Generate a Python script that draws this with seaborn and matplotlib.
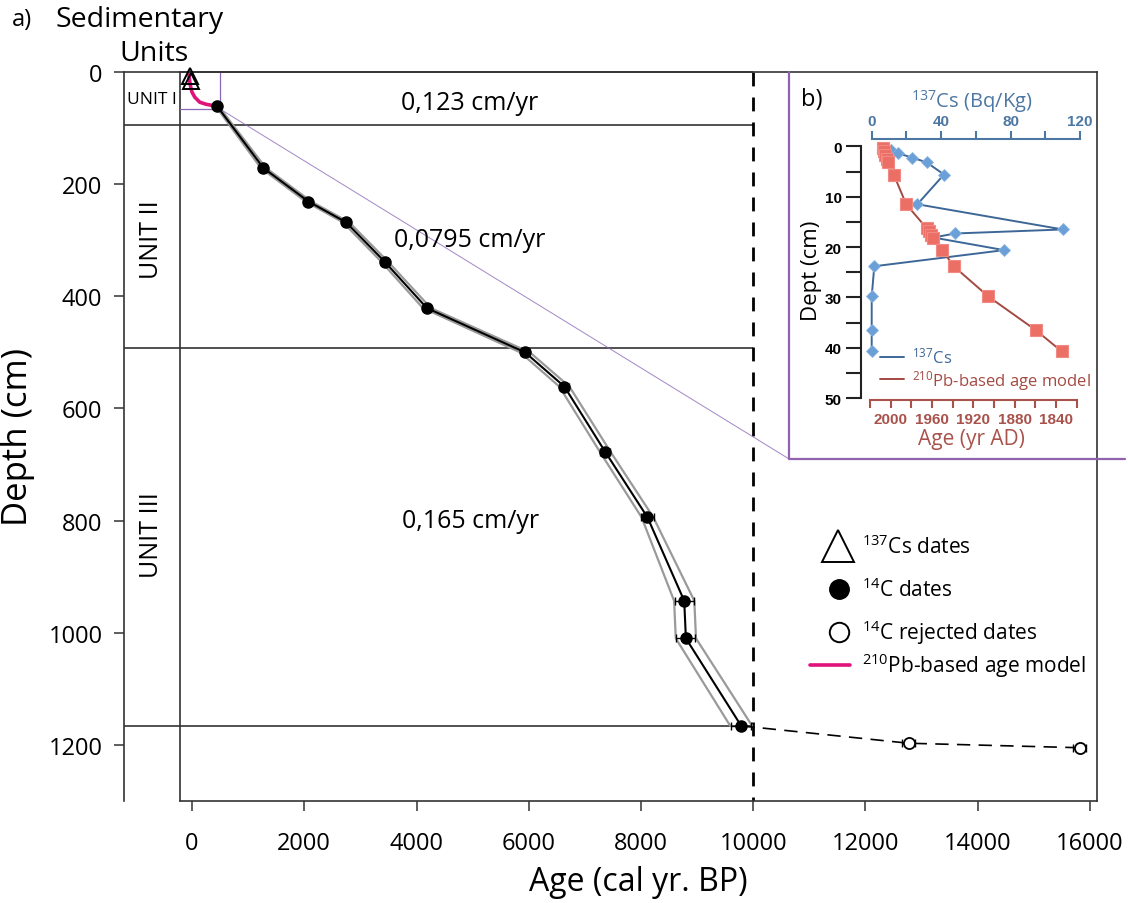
import matplotlib
matplotlib.use("Agg")
import matplotlib.pyplot as plt
from matplotlib.font_manager import FontProperties
from matplotlib.lines import Line2D
import seaborn as sns
import pandas as pd

# ---- main age-depth model -------------------------------------------------
c14_age = [440, 1270, 2075, 2745, 3430, 4185, 5935, 6635, 7360, 8115, 8770, 8800, 9785]
c14_depth = [60, 171, 231, 268, 338, 421, 500, 561, 677, 794, 943, 1010, 1166]
c14_err = [30, 40, 45, 50, 55, 60, 70, 75, 90, 110, 170, 170, 180]
model_halfwidth = [25, 45, 50, 55, 60, 70, 85, 90, 95, 105, 180, 180, 195]

rej_age = [12770, 15815]
rej_depth = [1197, 1205]
rej_err = [120, 110]

cs_age = [-36, -13]
cs_depth = [7, 16.5]

pb_age = [-55, -45, -25, 0, 50, 140, 250, 330, 440]
pb_depth = [5, 14, 26, 36, 45, 54, 57.5, 59, 60]

unit_bounds = [0, 94, 493, 1167]
unit_names = ["UNIT I", "UNIT II", "UNIT III"]
unit_label_depth = [48, 298, 824]
rate_labels = ["0,123 cm/yr", "0,0795 cm/yr", "0,165 cm/yr"]
rate_label_depth = [55, 298, 800]

# ---- inset: short core -----------------------------------------------------
cs_conc = [11, 15.3, 23.4, 31.7, 41.6, 26.3, 110, 48, 35.5, 76.2, 1.5, 0, 0, 0]
cs_core_depth = [0.7, 1.4, 2.25, 3.2, 5.6, 11.5, 16.5, 17.3, 18.1, 20.6, 23.8, 29.8, 36.5, 40.7]
pb_year = [2007, 2006, 2005, 2004, 2003, 1997, 1985, 1965, 1962.5, 1961, 1959, 1950, 1939, 1905.5, 1859.5, 1834.5]
pb_core_depth = [0.3, 1.0, 1.8, 2.6, 3.2, 5.6, 11.5, 16.3, 16.9, 17.6, 18.2, 20.6, 23.8, 29.8, 36.5, 40.7]

sns.set_theme(style="white")
plt.rcParams["font.family"] = ["Open Sans", "DejaVu Sans"]
plt.rcParams["mathtext.fontset"] = "custom"
plt.rcParams["mathtext.rm"] = "Open Sans"
plt.rcParams["mathtext.it"] = "Open Sans"
for key in ["text.color", "axes.labelcolor", "xtick.color", "ytick.color"]:
    plt.rcParams[key] = "black"

W, H = 1128, 904
fig = plt.figure(figsize=(W / 100, H / 100), dpi=100)

# main axes box in pixel space: x 180..1097, y 73..802
ax = fig.add_axes([180 / W, 1 - 802 / H, 917 / W, 729 / H])
XL = (-214, 16125)
YL = (1300, 0)
ax.set_xlim(*XL)
ax.set_ylim(*YL)

edge = "#333333"
for s in ax.spines.values():
    s.set_color(edge)
    s.set_linewidth(1.2)
ax.spines["left"].set_position(("outward", 40.3))

ax.set_xticks(range(0, 16001, 2000))
ax.set_yticks(range(0, 1201, 200))
ax.tick_params(axis="both", direction="out", length=7.5, width=1.1, color=edge,
               labelsize=17, left=True, bottom=True)
ax.tick_params(axis="x", pad=14)
ax.tick_params(axis="y", pad=8)

ax.set_xlabel("Age (cal yr. BP)", fontsize=23, labelpad=7)
ax.set_ylabel("Depth (cm)", fontsize=25)
ax.yaxis.set_label_coords(-0.158, 0.5)

# column separating sedimentary units from the plot
ax.plot([XL[0], XL[0]], [0, 1300], color=edge, lw=1.2, clip_on=False)
ax.hlines(unit_bounds, -1212, 10000, color=edge, lw=1.2, clip_on=False)
ax.plot([10000, 10000], [0, 1300], color="black", lw=2, ls=(0, (5, 4)))

for name, d in zip(unit_names, unit_label_depth):
    if name == "UNIT I":
        ax.text(-713, d, name, fontsize=12.5, ha="center", va="center")
    else:
        ax.text(-713, d, name, fontsize=18, ha="center", va="center", rotation=90)

for lab, d in zip(rate_labels, rate_label_depth):
    ax.text(4955, d, lab, fontsize=18, ha="center", va="center")

# confidence envelope of the model
lo = [a - h for a, h in zip(c14_age, model_halfwidth)]
hi = [a + h for a, h in zip(c14_age, model_halfwidth)]
sns.lineplot(x=lo, y=c14_depth, sort=False, estimator=None, color="#9a9a9a", lw=1.6, ax=ax)
sns.lineplot(x=hi, y=c14_depth, sort=False, estimator=None, color="#9a9a9a", lw=1.6, ax=ax)
sns.lineplot(x=c14_age, y=c14_depth, sort=False, estimator=None, color="black", lw=1.5, ax=ax)

# extrapolation to the rejected dates
sns.lineplot(x=[c14_age[-1]] + rej_age, y=[c14_depth[-1]] + rej_depth, sort=False,
             estimator=None, color="black", lw=1.2, ax=ax)
ax.lines[-1].set_linestyle((0, (8, 5)))

ax.errorbar(c14_age, c14_depth, xerr=c14_err, fmt="none", ecolor="black",
            elinewidth=1, capsize=3, capthick=1)
ax.errorbar(rej_age, rej_depth, xerr=rej_err, fmt="none", ecolor="black",
            elinewidth=1, capsize=3, capthick=1)
ax.plot(c14_age, c14_depth, "o", color="black", ms=8, zorder=5)
ax.plot(rej_age, rej_depth, "o", mfc="white", mec="black", mew=1.3, ms=8, zorder=5)

# 210Pb model and 137Cs markers near the top
sns.lineplot(x=pb_age, y=pb_depth, sort=False, estimator=None, color="#e0137c", lw=2.6, ax=ax)
ax.plot(cs_age, cs_depth, "^", mfc="none", mec="black", mew=1.4, ms=11, zorder=6,
        clip_on=False)

# zoom box and connector towards the inset
purple = "#8a68b8"
ax.plot([XL[0], 499, 499], [66, 66, 0], color=purple, lw=0.9)
ax.plot([499, 10637], [66, 690], color=purple, lw=0.7, alpha=0.8)
ax.plot([10637, 10637, 16624], [0, 690, 690], color="#9061ad", lw=1.6, clip_on=False, zorder=7)

# legend (drawn in axes fraction)
def fx(px):
    return (px - 180) / 917

def fy(py):
    return (802 - py) / 729

tr = ax.transAxes
ax.plot([fx(838)], [fy(547)], "^", mfc="none", mec="black", mew=1.4, ms=23, transform=tr, clip_on=False)
ax.plot([fx(839)], [fy(590)], "o", color="black", ms=14, transform=tr, clip_on=False)
ax.plot([fx(839)], [fy(633)], "o", mfc="white", mec="black", mew=1.4, ms=14, transform=tr, clip_on=False)
ax.plot([fx(810), fx(850)], [fy(666), fy(666)], color="#e0137c", lw=2.6, transform=tr, clip_on=False)
leg_txt = [r"$^{137}$Cs dates", r"$^{14}$C dates", r"$^{14}$C rejected dates",
           r"$^{210}$Pb-based age model"]
for t, py in zip(leg_txt, [547, 590, 633, 666]):
    ax.text(fx(862), fy(py), t, fontsize=15, ha="left", va="center", transform=tr)

fig.text(22 / W, 1 - 20 / H, "a)", fontsize=17, ha="center", va="center")
fig.text(140 / W, 1 - 20 / H, "Sedimentary", fontsize=20.5, ha="center", va="center")
fig.text(154 / W, 1 - 54 / H, "Units", fontsize=20.5, ha="center", va="center")

# ---- inset ---------------------------------------------------------------
blue_ax = "#4c77a3"
red_ax = "#a8524b"
bold = FontProperties(family=["Liberation Sans", "DejaVu Sans"], weight="bold", size=11)

axi = fig.add_axes([861 / W, 1 - 401 / H, 221 / W, 261 / H])
axi.set_facecolor("none")
axp = axi.twiny()

cs_df = pd.DataFrame({"cs": cs_conc, "depth": cs_core_depth})
sns.lineplot(data=cs_df, x="cs", y="depth", sort=False, estimator=None, color="#3d6797",
             lw=1.4, marker="D", ms=6, mfc="#6a9fd8", mec="#8ab4e2", mew=0.6, ax=axi)

axi.set_ylim(50.34, -1.45)
axi.set_xlim(-6.16, 121.07)
for s in ["right", "bottom"]:
    axi.spines[s].set_visible(False)
axi.spines["left"].set_color("#222222")
axi.spines["left"].set_linewidth(1.5)
axi.spines["left"].set_bounds(0, 50)
axi.spines["top"].set_color(blue_ax)
axi.spines["top"].set_linewidth(1.5)
axi.spines["top"].set_bounds(0, 120)
axi.xaxis.set_ticks_position("top")
axi.xaxis.set_label_position("top")
axi.set_xticks(range(0, 121, 20))
axi.set_xticklabels(["0", "", "40", "", "80", "", "120"])
axi.set_yticks(range(0, 51, 5))
axi.set_yticklabels([str(v) if v % 10 == 0 else "" for v in range(0, 51, 5)])
for lab in axi.get_yticklabels():
    lab.set_fontproperties(bold)
for lab in axi.get_xticklabels():
    lab.set_fontproperties(bold)
    lab.set_color(blue_ax)
axi.tick_params(axis="y", direction="out", length=11, width=1.5, color="#222222", pad=3, left=True)
axi.tick_params(axis="x", direction="out", length=6, width=1.5, color=blue_ax, pad=2,
                top=True, bottom=False, labeltop=True, labelbottom=False)
axi.set_xlabel(r"$^{137}$Cs (Bq/Kg)", fontsize=14.5, color=blue_ax, labelpad=5)
axi.set_ylabel("Dept (cm)", fontsize=16, labelpad=2)

pb_df = pd.DataFrame({"year": pb_year, "depth": pb_core_depth})
sns.lineplot(data=pb_df, x="year", y="depth", sort=False, estimator=None, color="#a34a42",
             lw=1.4, marker="s", ms=8, mfc="#ec6f66", mec="#f08a82", mew=0.8, ax=axp)
axp.set_xlim(2028.7, 1814.9)
axp.set_ylim(50.34, -1.45)
axp.set_ylabel("")
for s in ["right", "top", "left"]:
    axp.spines[s].set_visible(False)
axp.spines["bottom"].set_visible(True)
axp.spines["bottom"].set_color(red_ax)
axp.spines["bottom"].set_linewidth(1.5)
axp.spines["bottom"].set_bounds(1820, 2020)
axp.xaxis.set_ticks_position("bottom")
axp.xaxis.set_label_position("bottom")
yrs = list(range(2020, 1819, -20))
axp.set_xticks(yrs)
axp.set_xticklabels([str(v) if v in (2000, 1960, 1920, 1880, 1840) else "" for v in yrs])
for lab in axp.get_xticklabels():
    lab.set_fontproperties(bold)
    lab.set_color(red_ax)
axp.tick_params(axis="x", direction="out", length=6, width=1.5, color=red_ax, pad=3,
                bottom=True, top=False, labelbottom=True, labeltop=False)
axp.set_xlabel("Age (yr AD)", fontsize=15, color=red_ax, labelpad=1)

h_cs = Line2D([], [], color="#3d6797", lw=1.4)
h_pb = Line2D([], [], color="#a34a42", lw=1.4)
axp.legend([h_cs, h_pb], [r"$^{137}$Cs", r"$^{210}$Pb-based age model"], loc="upper left",
           bbox_to_anchor=(0.05, 0.235), frameon=False, fontsize=12, handlelength=1.4,
           handletextpad=0.5, labelspacing=0.05, borderpad=0,
           labelcolor=["#3d6797", "#a34a42"])

fig.text(812 / W, 1 - 100 / H, "b)", fontsize=17, ha="center", va="center")

fig.savefig("out.png", dpi=100)
